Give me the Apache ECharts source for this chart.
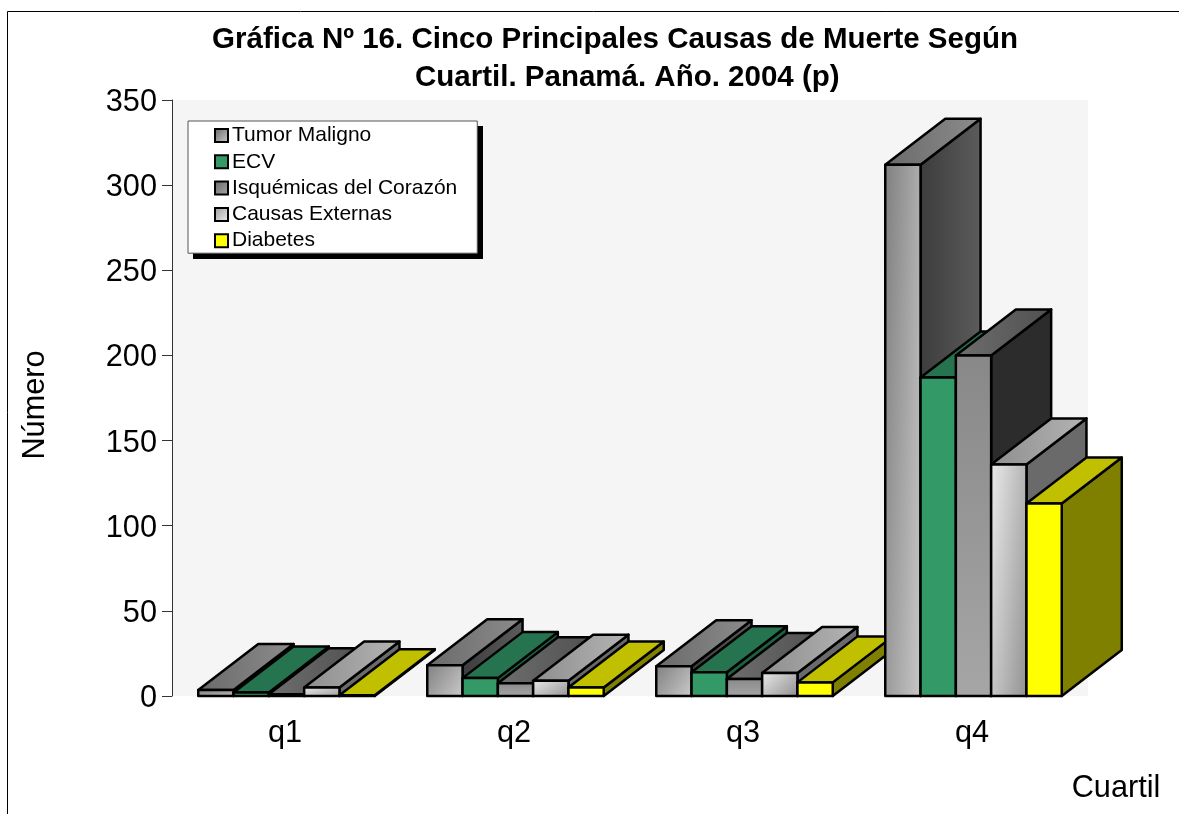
<!DOCTYPE html>
<html><head><meta charset="utf-8">
<style>html,body{margin:0;padding:0;background:#fff}#c{width:1179px;height:814px}</style>
<script src="https://cdn.jsdelivr.net/npm/echarts@6/dist/echarts.min.js"></script>
</head><body><div id="c"></div>
<script>
const categories = ['q1','q2','q3','q4'];
const tumorMaligno = [3.5, 18, 17.5, 312];
const ecv = [2, 10.5, 14, 187];
const isquemicas = [1, 7.5, 10, 200];
const causasExternas = [5, 9, 13.5, 136];
const diabetes = [0.5, 5, 8, 113];
const yTicks = [0,50,100,150,200,250,300,350];

const lg = (x2,y2,a,b)=>new echarts.graphic.LinearGradient(0,0,x2,y2,[{offset:0,color:a},{offset:1,color:b}]);
// gradient whose colour runs corner to corner in box-relative terms, weighted alpha:(1-alpha)
function skew(w,h,alpha,a,b){
  const gx = alpha/w, gy = (1-alpha)/h, n = gx*gx+gy*gy;
  return lg((gx/n)/w,(gy/n)/h,a,b);
}
const looks = [
 {name:'Tumor Maligno', data:tumorMaligno, front:(w,h)=>skew(w,h,0.62,'#7e7e7e','#cccccc'), top:lg(1,0,'#6a6a6a','#8c8c8c'), side:lg(1,0,'#3c3c3c','#5c5c5c')},
 {name:'ECV', data:ecv, front:()=>'#339966', top:'#267350', side:'#1f5f42'},
 {name:'Isquémicas del Corazón', data:isquemicas, front:()=>lg(0,1,'#888888','#a6a6a6'), top:lg(1,0,'#6e6e6e','#505050'), side:'#2c2c2c'},
 {name:'Causas Externas', data:causasExternas, front:(w,h)=>skew(w,h,0.6,'#ececec','#8c8c8c'), top:lg(1,0,'#8e8e8e','#b4b4b4'), side:'#6a6a6a'},
 {name:'Diabetes', data:diabetes, front:()=>'#ffff00', top:'#c0c000', side:'#808000'}
];
const legendIcons = [lg(1,1,'#666666','#cccccc'),'#339966',lg(1,1,'#666666','#aaaaaa'),lg(1,1,'#999999','#eeeeee'),'#ffff00'];

const BAR = 35.3/229, DX = 60, DY = -46, N = looks.length;
function makeRender(si){
  const look = looks[si];
  return function(params, api){
    const ci = params.dataIndex;
    const p = api.coord([ci, api.value(1)]);
    const b = api.coord([ci, 0]);
    const step = api.size([1,0])[0];
    const w = step*BAR;
    const x0 = p[0] - w*N/2 + w*si, x1 = x0 + w, yt = p[1], yb = b[1];
    const z = (ci*N + si)*4;
    const line = {stroke:'#000', lineWidth:2.5, lineJoin:'round'};
    return {type:'group', children:[
      {type:'polygon', z2:z, shape:{points:[[x1,yt],[x1+DX,yt+DY],[x1+DX,yb+DY],[x1,yb]]}, style:{fill:look.side, ...line}},
      {type:'polygon', z2:z+1, shape:{points:[[x0,yt],[x0+DX,yt+DY],[x1+DX,yt+DY],[x1,yt]]}, style:{fill:look.top, ...line}},
      {type:'rect', z2:z+2, shape:{x:x0,y:yt,width:w,height:yb-yt}, style:{fill:look.front(w,Math.max(yb-yt,1)), ...line}}
    ]};
  };
}
const chart = echarts.init(document.getElementById('c'), null, {renderer:'canvas'});
const F = '"Liberation Sans", Arial, sans-serif';
chart.setOption({
  animation:false,
  backgroundColor:'#ffffff',
  title:{
    text:'Gráfica Nº 16. Cinco Principales Causas de Muerte Según\n   Cuartil. Panamá. Año. 2004 (p)',
    left:610, top:15.5, textAlign:'center',
    textStyle:{fontFamily:F, fontSize:29.5, fontWeight:'bold', color:'#000', lineHeight:38}
  },
  legend:{
    orient:'vertical', left:188, top:121,
    padding:[4,20,2,26],
    itemWidth:13, itemHeight:13, itemGap:5.3, icon:'rect',
    backgroundColor:'#fff', borderColor:'#555', borderWidth:1,
    textStyle:{fontFamily:F, fontSize:21, color:'#000', padding:[0,0,0,-1]},
    data:looks.map((l,i)=>({name:l.name, icon:'rect', itemStyle:{color:legendIcons[i], borderColor:'#000', borderWidth:2}}))
  },
  grid:{left:172, top:100, width:916, height:596, containLabel:false, show:true, backgroundColor:'#f5f5f5', borderWidth:0},
  xAxis:{
    type:'category', data:categories, name:'Cuartil', nameLocation:'end',
    nameGap:0, nameTextStyle:{fontFamily:F, fontSize:30.7, color:'#000', padding:[77,0,0,56], align:'center', verticalAlign:'top'},
    axisLine:{show:false}, axisTick:{show:false}, splitLine:{show:false},
    axisLabel:{fontFamily:F, fontSize:30.7, color:'#000', margin:22, padding:[0,3,0,0]}
  },
  yAxis:{
    type:'value', min:0, max:350, interval:50,
    name:'Número', nameLocation:'middle', nameGap:121, nameRotate:90,
    nameTextStyle:{fontFamily:F, fontSize:30.7, color:'#000', padding:[0,14,0,0]},
    axisLine:{show:true, lineStyle:{color:'#333', width:1}},
    axisTick:{show:true, length:10, lineStyle:{color:'#333', width:1}},
    splitLine:{show:false},
    axisLabel:{color:'#000', margin:15, formatter:v=>yTicks.includes(v)?'{a|'+v+'}':'',
      rich:{a:{fontFamily:F, fontSize:30.7, color:'#000', padding:[5,0,0,0]}}}
  },
  series:looks.map((l,si)=>({
    type:'custom', name:l.name, renderItem:makeRender(si), coordinateSystem:'cartesian2d',
    encode:{x:0,y:1}, clip:false,
    data:l.data.map((v,i)=>[categories[i],v])
  })),
  graphic:[
    {type:'rect', silent:true, z:3, shape:{x:193,y:126,width:290,height:133}, style:{fill:'#000'}},
    {type:'polyline', silent:true, shape:{points:[[7.5,814],[7.5,11.5],[1179,11.5]]}, style:{stroke:'#000', lineWidth:1, fill:null}}
  ]
});
</script></body></html>
